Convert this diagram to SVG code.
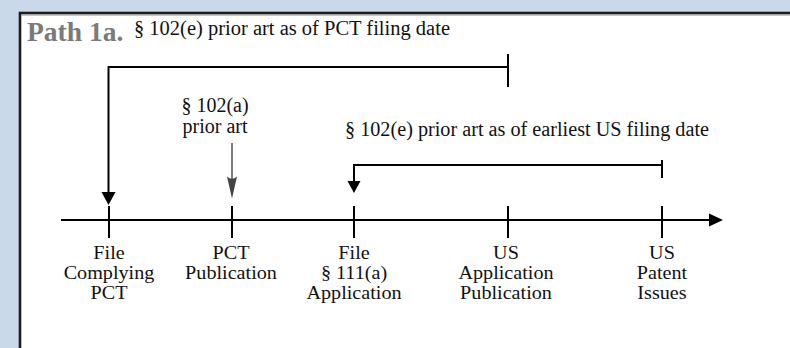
<svg xmlns="http://www.w3.org/2000/svg" width="790" height="348" viewBox="0 0 790 348">
<style>
  .t { font-family: "Liberation Serif", "Times New Roman", serif; font-size: 20px; fill: #111; }
  .b { font-family: "Liberation Serif", "Times New Roman", serif; font-size: 18px; fill: #111; text-anchor: middle; }
  .lbl { text-anchor: middle; }
  .ln { stroke: #000; stroke-width: 2; fill: none; }
  .title { font-family: "Liberation Serif", "Times New Roman", serif; font-size: 27.5px; font-weight: bold; fill: #7a7a7a; }
</style>
<rect x="0" y="0" width="790" height="348" fill="#c9d9ea"/>
<rect x="20" y="13" width="900" height="400" fill="#fff" stroke="#1c1c1c" stroke-width="2.6"/>
<line x1="21.5" y1="15" x2="790" y2="15" stroke="#8a8a8a" stroke-width="1"/>

<g id="title">
  <text class="title" x="27" y="41">Path 1a.</text>
  <text class="t" x="134" y="35" textLength="316" lengthAdjust="spacingAndGlyphs">§ 102(e) prior art as of PCT filing date</text>
</g>

<g id="connectors">
  <!-- timeline -->
  <line class="ln" x1="61" y1="220" x2="710" y2="220"/>
  <path d="M709,213.5 L723,220 L709,226.5 Z" fill="#000"/>
  <!-- ticks -->
  <line class="ln" x1="109" y1="206" x2="109" y2="238"/>
  <line class="ln" x1="232" y1="206" x2="232" y2="238"/>
  <line class="ln" x1="354" y1="206" x2="354" y2="238"/>
  <line class="ln" x1="508" y1="206" x2="508" y2="238"/>
  <line class="ln" x1="662" y1="206" x2="662" y2="238"/>
  <!-- top bracket -->
  <path class="ln" d="M508,67 H108.5 V192"/>
  <line class="ln" x1="508" y1="54" x2="508" y2="87"/>
  <path d="M101.5,192 L115.5,192 L108.5,205 Z" fill="#000"/>
  <!-- second bracket -->
  <path class="ln" d="M662,165 H354 V182"/>
  <line class="ln" x1="662" y1="160" x2="662" y2="178"/>
  <path d="M347.5,181 L360.5,181 L354,193 Z" fill="#000"/>
  <!-- 102(a) arrow -->
  <line x1="232" y1="143" x2="232" y2="180" stroke="#555" stroke-width="1.5"/>
  <path d="M232,198.5 L227,176.5 Q232,181 237,176.5 Z" fill="#444"/>
</g>

<g id="label-102a">
  <text class="t lbl" x="215" y="112">§ 102(a)</text>
  <text class="t lbl" x="215" y="133">prior art</text>
</g>
<g id="label-102e-us">
  <text class="t" x="345" y="136" textLength="364" lengthAdjust="spacingAndGlyphs">§ 102(e) prior art as of earliest US filing date</text>
</g>

<g id="node-file-pct" transform="translate(109,0) scale(1.12,1)">
  <text class="b" x="0" y="259">File</text>
  <text class="b" x="0" y="279">Complying</text>
  <text class="b" x="0" y="299">PCT</text>
</g>
<g id="node-pct-pub" transform="translate(231,0) scale(1.12,1)">
  <text class="b" x="0" y="259">PCT</text>
  <text class="b" x="0" y="279">Publication</text>
</g>
<g id="node-file-111a" transform="translate(354,0) scale(1.12,1)">
  <text class="b" x="0" y="259">File</text>
  <text class="b" x="0" y="279">§ 111(a)</text>
  <text class="b" x="0" y="299">Application</text>
</g>
<g id="node-us-app-pub" transform="translate(506,0) scale(1.12,1)">
  <text class="b" x="0" y="259">US</text>
  <text class="b" x="0" y="279">Application</text>
  <text class="b" x="0" y="299">Publication</text>
</g>
<g id="node-us-patent" transform="translate(662,0) scale(1.12,1)">
  <text class="b" x="0" y="259">US</text>
  <text class="b" x="0" y="279">Patent</text>
  <text class="b" x="0" y="299">Issues</text>
</g>
</svg>
